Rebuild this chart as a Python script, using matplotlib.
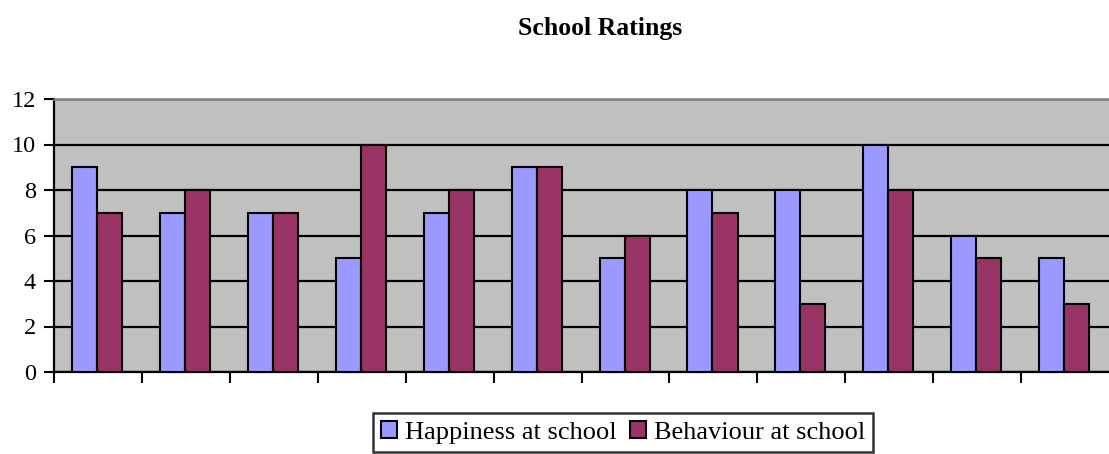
import matplotlib.pyplot as plt
import numpy as np

# Valores
n_grupos = 12
felicidad = [9, 7, 7, 5, 7, 9, 5, 8, 8, 10, 6, 5]
comportamiento = [7, 8, 7, 10, 8, 9, 6, 7, 3, 8, 5, 3]
etiquetas = ['Happiness at school', 'Behaviour at school']
colores = ['#9999FF', '#993366']

plt.rcParams['font.family'] = ['Liberation Serif', 'DejaVu Serif']

fig = plt.figure(figsize=(11.09, 4.54), dpi=100)
ax = fig.add_axes([54/1109, 82/454, 1055/1109, 273/454])
ax.set_facecolor('#C0C0C0')

x = np.arange(n_grupos)
ancho = 0.285
ax.bar(x + 0.5 - ancho/2 - 0.01, felicidad, ancho, color=colores[0],
       edgecolor='black', linewidth=1.5, label=etiquetas[0], zorder=3)
ax.bar(x + 0.5 + ancho/2 - 0.01, comportamiento, ancho, color=colores[1],
       edgecolor='black', linewidth=1.5, label=etiquetas[1], zorder=3)

ax.set_xlim(0, n_grupos)
ax.set_ylim(0, 12)
ax.set_yticks(range(0, 13, 2))
ax.set_xticks(range(0, n_grupos))
ax.set_xticklabels([])
ax.grid(axis='y', color='black', linewidth=1.6, zorder=1)

ax.spines['right'].set_visible(False)
ax.spines['top'].set_color('#808080')
ax.spines['top'].set_linewidth(1.8)
ax.spines['left'].set_linewidth(1.6)
ax.spines['bottom'].set_linewidth(1.6)
ax.tick_params(axis='y', direction='out', length=7, width=1.5, labelsize=17.5, pad=6)
ax.tick_params(axis='x', direction='out', length=8, width=1.5)

fig.text(600/1109, 1 - 28/454, 'School Ratings', ha='center', va='center',
         fontsize=18.5, fontweight='bold')

leg = fig.legend(loc='upper center', bbox_to_anchor=(623/1109, 1 - 413/454), ncol=2,
                 fontsize=19, frameon=True, fancybox=False, handlelength=0.6,
                 handleheight=0.6, handletextpad=0.3, columnspacing=0.5,
                 borderpad=0.3, borderaxespad=0)
leg.get_frame().set_edgecolor('black')
leg.get_frame().set_linewidth(1.8)

fig.savefig('out.png', dpi=100)
